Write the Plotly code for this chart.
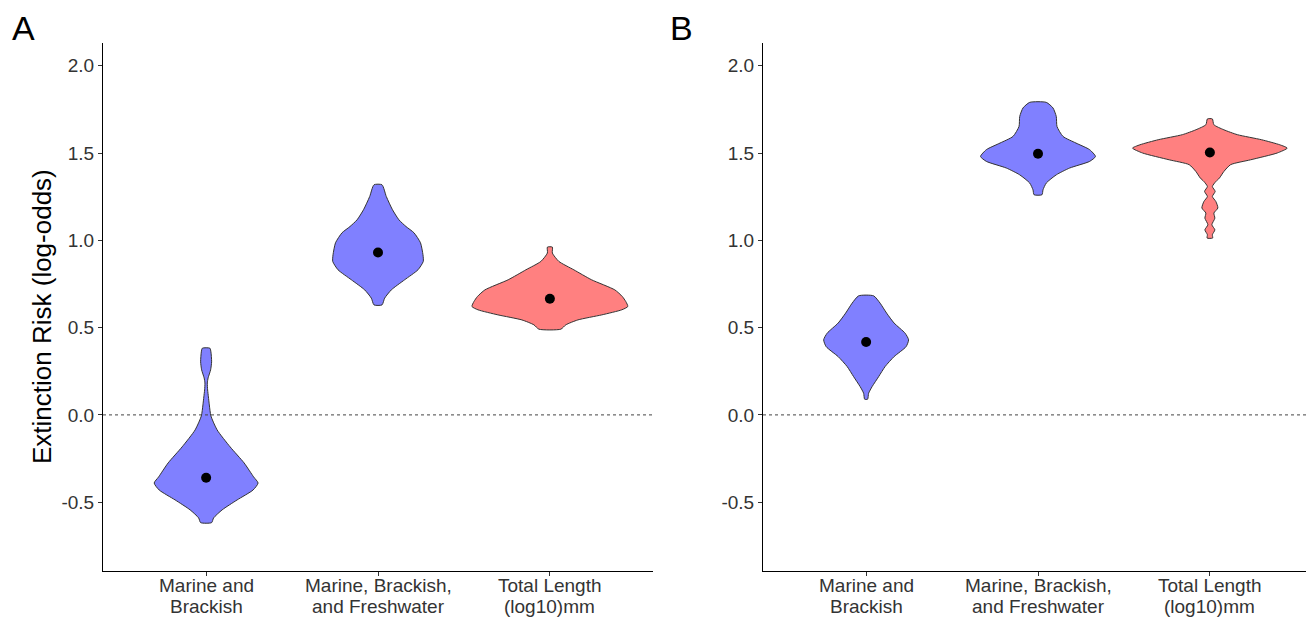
import plotly.graph_objects as go

# ---------------- data ----------------
label_line1 = ["Marine and", "Marine, Brackish,", "Total Length"]
label_line2 = ["Brackish", "and Freshwater", "(log10)mm"]
cat_pos = [1, 2, 3]
fills = ["#8080ff", "#8080ff", "#ff8080"]

# posterior means (log-odds)
means_A = [-0.36, 0.93, 0.665]
means_B = [0.418, 1.496, 1.503]

# violin outlines: y grid (log-odds) and relative density (half-width)
A1_y = [0.382, 0.361, 0.304, 0.258, 0.212, 0.183, 0.143, 0.103, 0.057, -0.006, -0.086, -0.183, -0.275, -0.355, -0.39, -0.43, -0.487, -0.544, -0.59, -0.617]
A1_d = [3.8, 4.8, 5.5, 4.5, 2.0, 1.2, 1.5, 2.3, 3.2, 4.8, 11, 24, 38, 47.5, 52, 47, 31, 16, 7.5, 5.5]

A2_y = [1.318, 1.251, 1.175, 1.117, 1.079, 1.043, 0.986, 0.917, 0.879, 0.831, 0.774, 0.716, 0.669, 0.630]
A2_d = [4, 8.3, 14.5, 21, 28, 36, 42.5, 45, 45.3, 40, 26.7, 13.3, 6.7, 4]

A3_y = [0.961, 0.927, 0.879, 0.831, 0.774, 0.716, 0.678, 0.649, 0.621, 0.602, 0.573, 0.544, 0.516, 0.491]
A3_d = [2.5, 2.5, 9, 24, 41.7, 65, 72.5, 76, 78, 72, 52, 28, 16, 11]

B1_y = [0.682, 0.640, 0.583, 0.526, 0.468, 0.430, 0.391, 0.334, 0.277, 0.219, 0.162, 0.124, 0.090]
B1_d = [7.5, 14, 20.5, 28, 39, 42.5, 40, 28, 19, 12.5, 6, 2.5, 1.5]

B2_y = [1.790, 1.758, 1.709, 1.652, 1.595, 1.557, 1.519, 1.480, 1.452, 1.414, 1.375, 1.328, 1.289, 1.261]
B2_d = [8.3, 15, 18.3, 19, 25, 38, 51.7, 57.5, 51.7, 31.7, 18.3, 8.3, 5, 4]

B3_y = [1.695, 1.662, 1.633, 1.605, 1.576, 1.547, 1.528, 1.500, 1.461, 1.433, 1.394, 1.356, 1.337, 1.308, 1.280, 1.251, 1.222, 1.185, 1.156, 1.127, 1.089, 1.060, 1.032, 1.013]
B3_d = [2.5, 4, 14, 27.5, 51.7, 70, 77.4, 67.4, 40.7, 20.7, 14, 9.5, 6, 2.5, 5.3, 2.5, 6, 8, 4, 5, 2, 5, 2.5, 2.8]

y_tickvals = [-0.5, 0.0, 0.5, 1.0, 1.5, 2.0]
y_ticktext = ["-0.5", "0.0", "0.5", "1.0", "1.5", "2.0"]

# ---------------- styling ----------------
WIDTH_SCALE = 1 / 172.0   # density -> category units
FONT = "Liberation Sans, Arial, sans-serif"
OUTLINE = "#333333"
OFF = 8                   # page body margin offset
W, H = 1314 - OFF, 619 - OFF

def px_x(p):
    return (p - OFF) / W

def px_y(p):
    return 1 - (p - OFF) / H

fig = go.Figure()

def add_violin(center, ys, ds, color, xa, ya):
    right_x = [center + d * WIDTH_SCALE for d in ds]
    left_x = [center - d * WIDTH_SCALE for d in ds]
    xs = right_x + left_x[::-1] + [right_x[0]]
    yy = list(ys) + list(ys[::-1]) + [ys[0]]
    fig.add_trace(go.Scatter(
        x=xs, y=yy, mode="lines", fill="toself", fillcolor=color,
        line=dict(color=OUTLINE, width=1, shape="spline", smoothing=0.6),
        xaxis=xa, yaxis=ya, showlegend=False, hoverinfo="skip"))

violins_A = [(A1_y, A1_d), (A2_y, A2_d), (A3_y, A3_d)]
violins_B = [(B1_y, B1_d), (B2_y, B2_d), (B3_y, B3_d)]

for (ys, ds), c, col in zip(violins_A, cat_pos, fills):
    add_violin(c, ys, ds, col, "x", "y")
for (ys, ds), c, col in zip(violins_B, cat_pos, fills):
    add_violin(c, ys, ds, col, "x2", "y2")

fig.add_trace(go.Scatter(x=cat_pos, y=means_A, mode="markers",
                         marker=dict(color="black", size=10),
                         xaxis="x", yaxis="y", showlegend=False))
fig.add_trace(go.Scatter(x=cat_pos, y=means_B, mode="markers",
                         marker=dict(color="black", size=10),
                         xaxis="x2", yaxis="y2", showlegend=False))

xdomA = [px_x(103), px_x(653)]
xdomB = [px_x(763), min(px_x(1313), 1.0)]
ydom = [px_y(571), px_y(43)]
yrange = [-0.894, 2.13]

axis_common = dict(showline=True, linecolor="black", linewidth=1, ticks="outside",
                   ticklen=4, tickwidth=1, tickcolor="#333333", showgrid=False,
                   zeroline=False, tickfont=dict(family=FONT, size=19, color="#333333"))

fig.update_layout(
    width=W, height=H,
    margin=dict(l=0, r=0, t=0, b=0),
    paper_bgcolor="white", plot_bgcolor="white",
    xaxis=dict(domain=xdomA, range=[0.4, 3.6], tickvals=cat_pos, showticklabels=False,
               anchor="y", **axis_common),
    yaxis=dict(domain=ydom, range=yrange, tickvals=y_tickvals, ticktext=y_ticktext,
               anchor="x", **axis_common),
    xaxis2=dict(domain=xdomB, range=[0.4, 3.6], tickvals=cat_pos, showticklabels=False,
                anchor="y2", **axis_common),
    yaxis2=dict(domain=ydom, range=yrange, tickvals=y_tickvals, ticktext=y_ticktext,
                anchor="x2", **axis_common),
    font=dict(family=FONT),
)

for xa, ya in [("x", "y"), ("x2", "y2")]:
    fig.add_shape(type="line", xref=f"{xa} domain", yref=ya, x0=0, x1=1, y0=0, y1=0,
                  line=dict(color="#444444", width=1, dash="dot"))
    # two-line category labels
    for c, l1, l2 in zip(cat_pos, label_line1, label_line2):
        for txt, yp in [(l1, 585), (l2, 606)]:
            fig.add_annotation(text=txt, xref=xa, yref="paper", x=c, y=px_y(yp),
                               showarrow=False, xanchor="center", yanchor="middle",
                               font=dict(family=FONT, size=19, color="#333333"))

fig.add_annotation(text="Extinction Risk (log-odds)", xref="paper", yref="paper",
                   x=px_x(42), y=px_y(317), textangle=-90, showarrow=False,
                   font=dict(family=FONT, size=26, color="black"),
                   xanchor="center", yanchor="middle")
fig.add_annotation(text="A", xref="paper", yref="paper", x=px_x(23), y=px_y(28),
                   showarrow=False, font=dict(family=FONT, size=34, color="black"),
                   xanchor="center", yanchor="middle")
fig.add_annotation(text="B", xref="paper", yref="paper", x=px_x(681), y=px_y(28),
                   showarrow=False, font=dict(family=FONT, size=34, color="black"),
                   xanchor="center", yanchor="middle")

fig.write_html("out.html")
